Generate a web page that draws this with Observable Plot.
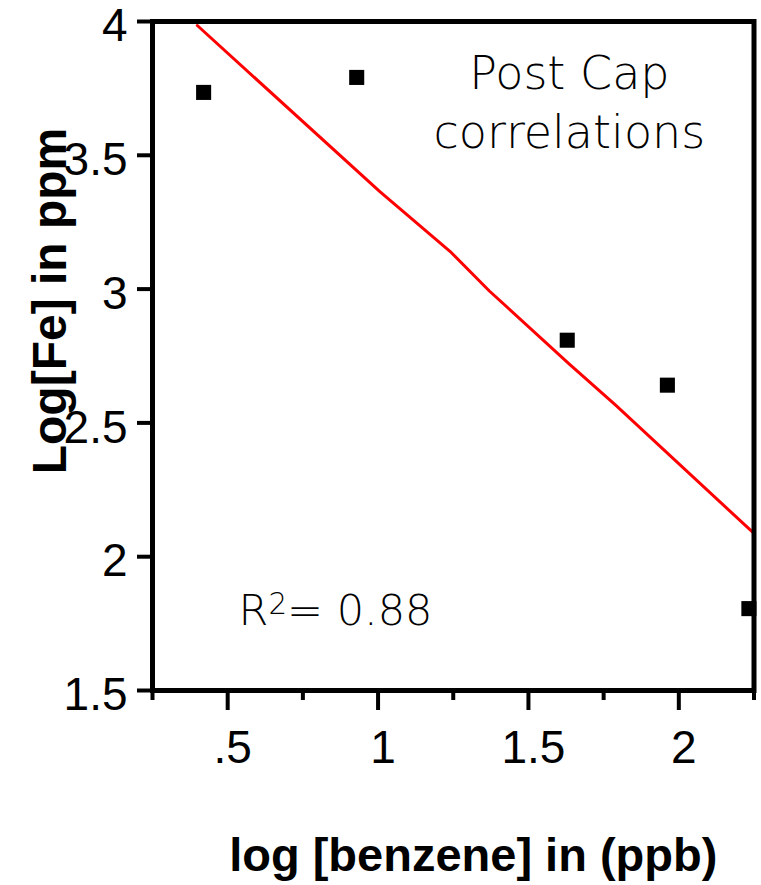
<!DOCTYPE html>
<html><head><meta charset="utf-8">
<script src="https://cdn.jsdelivr.net/npm/d3@7"></script>
<script src="https://cdn.jsdelivr.net/npm/@observablehq/plot@0.6"></script>
<style>
body{margin:0;background:#fff}
#chart svg{display:block}
</style>
</head><body><div id="chart"></div>
<script>
// Data
const benzene = [0.42, 0.929, 1.629, 1.962, 2.233];
const iron = [3.735, 3.791, 2.809, 2.641, 1.806];
const fitBenzene = [0.399, 1.006, 1.243, 1.371, 1.637, 1.789, 2.25];
const fitIron = [3.985, 3.364, 3.137, 2.992, 2.719, 2.567, 2.087];
const yTicks = [1.5, 2, 2.5, 3, 3.5, 4];
const yTickLabels = ["1.5", "2", "2.5", "3", "3.5", "4"];
const xMajorTicks = [0.5, 1, 1.5, 2];
const xMinorTicks = [0.25, 0.75, 1.25, 1.75, 2.25];
const xTickLabels = [".5", "1", "1.5", "2"];
const yLabel = "Log[Fe] in ppm";
const xLabel = "log [benzene] in (ppb)";
const noteLabel = "Post Cap\ncorrelations";
const rLabel = "R\u00B2= 0.88";

const points = benzene.map((b, i) => ({b, fe: iron[i]}));
const fit = fitBenzene.map((b, i) => ({b, fe: fitIron[i]}));
const xFmt = d => xTickLabels[xMajorTicks.indexOf(d)];
const yFmt = d => yTickLabels[yTicks.indexOf(d)];

const thin = "'DejaVu Sans', sans-serif";

const chart = Plot.plot({
  width: 761,
  height: 885,
  marginLeft: 152,
  marginRight: 7.5,
  marginTop: 21,
  marginBottom: 195,
  style: {fontFamily: "'Liberation Sans', Arial, sans-serif", background: "#fff", color: "#000"},
  x: {domain: [0.25, 2.25]},
  y: {domain: [1.5, 4]},
  marks: [
    Plot.line(fit, {x: "b", y: "fe", stroke: "#ff0000", strokeWidth: 3}),
    Plot.dot(points, {x: "b", y: "fe", symbol: "square", r: 8.5, fill: "#000", stroke: null}),
    Plot.frame({stroke: "#000", strokeWidth: 5}),
    Plot.axisY({ticks: yTicks, tickSize: 15, tickFormat: () => "", strokeWidth: 4, label: null}),
    Plot.axisY({ticks: yTicks, tickSize: 0, tickPadding: 25, dy: 5, tickFormat: yFmt, fontSize: 46, label: null}),
    Plot.axisX({ticks: xMajorTicks, tickSize: 20, tickFormat: () => "", strokeWidth: 4, label: null}),
    Plot.axisX({ticks: xMinorTicks, tickSize: 10, tickFormat: () => "", strokeWidth: 4, label: null}),
    Plot.axisX({ticks: xMajorTicks, tickSize: 0, tickPadding: 40, dx: 5, tickFormat: xFmt, fontSize: 46, label: null}),
    Plot.text([noteLabel], {x: 1.636, y: 3.529, text: d => d, textAnchor: "middle", lineAnchor: "bottom", lineHeight: 1.28, fontSize: 46, fontFamily: thin, fontWeight: 200, fill: "#000"}),
    Plot.text([rLabel], {x: 0.536, y: 1.743, text: d => d, textAnchor: "start", lineAnchor: "bottom", fontSize: 43, fontFamily: thin, fontWeight: 200, fill: "#000", className: "rlabel"}),
    Plot.text([yLabel], {frameAnchor: "left", textAnchor: "middle", lineAnchor: "middle", dx: -102, dy: -55, rotate: -90, text: d => d, fontSize: 48, fontWeight: "bold", fill: "#000"}),
    Plot.text([xLabel], {frameAnchor: "bottom", textAnchor: "middle", lineAnchor: "bottom", dx: 20, dy: 180, text: d => d, fontSize: 47, fontWeight: "bold", fill: "#000"})
  ]
});

// Render the "2" of R² as a real superscript
chart.querySelectorAll(".rlabel text").forEach(t => {
  const s = t.textContent;
  const k = s.indexOf("\u00B2");
  if (k < 0) return;
  const ns = "http://www.w3.org/2000/svg";
  t.textContent = "";
  t.append(document.createTextNode(s.slice(0, k)));
  const sup = document.createElementNS(ns, "tspan");
  sup.setAttribute("baseline-shift", "38%");
  sup.setAttribute("font-size", "68%");
  sup.textContent = "2";
  t.append(sup);
  t.append(document.createTextNode(s.slice(k + 1)));
});

document.getElementById("chart").append(chart);
</script>
</body></html>
